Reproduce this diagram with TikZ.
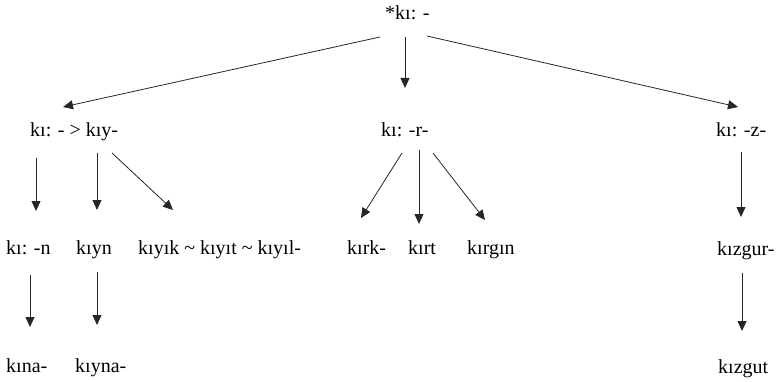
\documentclass[tikz,border=0pt]{standalone}
\usepackage{fontspec}
\setmainfont{Liberation Serif}
\usetikzlibrary{arrows.meta,calc}
\tikzset{
  lbl/.style={anchor=base west, inner sep=0pt, font=\fontsize{20}{24}\selectfont},
  arr/.style={-{Triangle[length=10pt,width=9pt]}, line width=0.8pt, draw=black!85}
}
\begin{document}
\begin{tikzpicture}[x=1pt,y=-1pt]
\useasboundingbox (0,0) rectangle (778,382);
% nodes
\node[lbl] (root) at (385,20) {*kı: -};
\node[lbl] (a) at (30,137) {kı: - > kıy-};
\node[lbl] (b) at (381,137) {kı: -r-};
\node[lbl] (c) at (716,137) {kı: -z-};
\node[lbl] (a1) at (6,254) {kı: -n};
\node[lbl] (a2) at (76,254) {kıyn};
\node[lbl] (a3) at (138,254) {kıyık \textasciitilde{} kıyıt \textasciitilde{} kıyıl-};
\node[lbl] (b1) at (347,254) {kırk-};
\node[lbl] (b2) at (408,254) {kırt};
\node[lbl] (b3) at (467,254) {kırgın};
\node[lbl] (c1) at (717,255) {kızgur-};
\node[lbl] (a11) at (6,372) {kına-};
\node[lbl] (a21) at (75,372) {kıyna-};
\node[lbl] (c11) at (718,373) {kızgut};
% connectors
\draw[arr] ($(root.base west)+(-5,17)$) -- ($(a.base west)+(33,-30)$);
\draw[arr] ($(root.base west)+(20,17)$) -- ($(b.base west)+(24,-49)$);
\draw[arr] ($(root.base west)+(42,16)$) -- ($(c.base west)+(22,-30)$);
\draw[arr] ($(a.base west)+(6,21)$) -- ($(a1.base west)+(30,-43)$);
\draw[arr] ($(a.base west)+(67,16)$) -- ($(a2.base west)+(21,-44)$);
\draw[arr] ($(a.base west)+(82,16)$) -- ($(a3.base west)+(35,-44)$);
\draw[arr] ($(b.base west)+(21,16)$) -- ($(b1.base west)+(14,-36)$);
\draw[arr] ($(b.base west)+(38,13)$) -- ($(b2.base west)+(11,-30)$);
\draw[arr] ($(b.base west)+(52,16)$) -- ($(b3.base west)+(18,-34)$);
\draw[arr] ($(c.base west)+(25,15)$) -- ($(c1.base west)+(24,-38)$);
\draw[arr] ($(a1.base west)+(24,21)$) -- ($(a11.base west)+(24,-45)$);
\draw[arr] ($(a2.base west)+(21,18)$) -- ($(a21.base west)+(22,-47)$);
\draw[arr] ($(c1.base west)+(25,18)$) -- ($(c11.base west)+(24,-42)$);
\end{tikzpicture}
\end{document}
